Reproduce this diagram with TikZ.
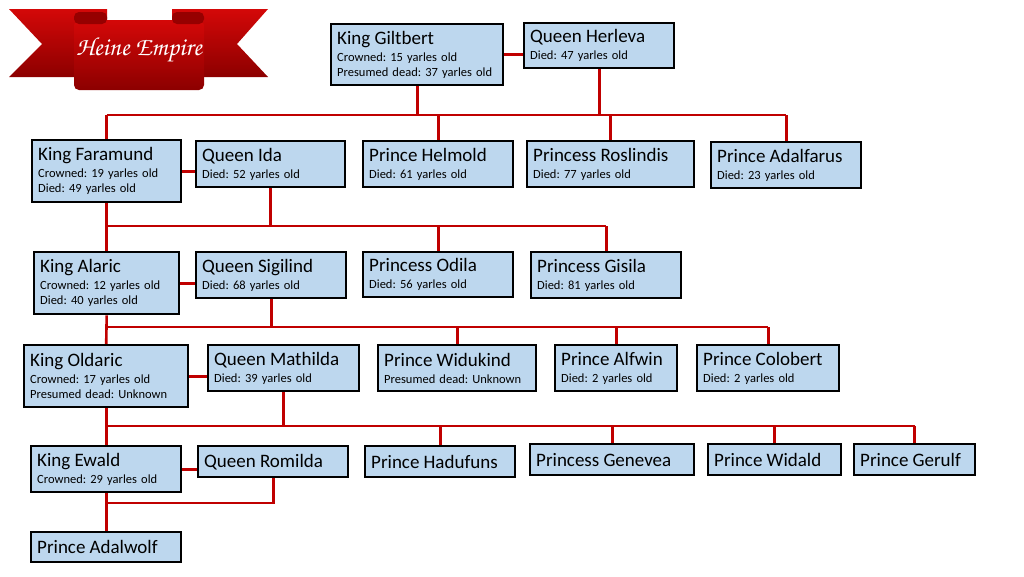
\documentclass[tikz,border=0pt]{standalone}
\usepackage{fontspec}
\setmainfont{Carlito}
\usetikzlibrary{backgrounds}
\definecolor{boxblue}{RGB}{189,215,238}
\definecolor{linkred}{RGB}{192,0,0}
\definecolor{ribbonhi}{RGB}{212,8,8}
\definecolor{ribbonlo}{RGB}{140,0,0}
\definecolor{ribbondk}{RGB}{150,0,0}
\newcommand\namefont{\fontsize{19}{23}\selectfont}
\newcommand\detfont{\fontsize{12.5}{15}\selectfont}
\frenchspacing
\tikzset{
  member/.style={draw=black, line width=2.4pt, fill=boxblue, anchor=north west,
    inner xsep=6pt, inner ysep=3pt, align=left, font=\detfont},
  link/.style={draw=linkred, line width=2.6pt}
}
\begin{document}
\begin{tikzpicture}[x=1pt,y=-1pt]
  \def\member(#1)[#2]#3#4#5{%
    \pgfmathsetmacro\tw{#3-12}
    \node[member, text width=\tw pt, minimum height=#4pt] (#1) at (#2) {#5};
  }
  \useasboundingbox (0,0) rectangle (1024,576);

  % banner
  \shade[top color=ribbonhi, bottom color=ribbonlo]
    (9,9) -- (107,9) -- (107,77) -- (9,77) -- (42,44) -- cycle;
  \shade[top color=ribbonhi, bottom color=ribbonlo]
    (268,9) -- (172,9) -- (172,77) -- (268,77) -- (237,44) -- cycle;
  \shade[top color=ribbonhi, bottom color=ribbonlo, rounded corners=5pt]
    (74,20) -- (74,90) -- (204,90) -- (204,20) -- cycle;
  \fill[ribbondk, rounded corners=5pt] (74,12) rectangle (107,24);
  \fill[ribbondk, rounded corners=5pt] (172,12) rectangle (204,24);
  \node[text=white, font={\fontencoding{OT1}\fontfamily{pzc}\fontseries{mb}\fontshape{it}\fontsize{26}{28}\selectfont}]
    (title) at (139,50) {Heine Empire};

  % generation 1
  \member(gilt)[330,23]{172}{61}{{\namefont King Giltbert}\\[2pt]Crowned: 15 yarles old\\Presumed dead: 37 yarles old}
  \member(herl)[523,22]{150}{45}{{\namefont Queen Herleva}\\[2pt]Died: 47 yarles old}

  % generation 2
  \member(fara)[31,139]{149}{62}{{\namefont King Faramund}\\[2pt]Crowned: 19 yarles old\\Died: 49 yarles old}
  \member(ida)[195,140]{149}{46}{{\namefont Queen Ida}\\[2pt]Died: 52 yarles old}
  \member(helm)[362,140]{150}{46}{{\namefont Prince Helmold}\\[2pt]Died: 61 yarles old}
  \member(rosl)[526,140]{167}{46}{{\namefont Princess Roslindis}\\[2pt]Died: 77 yarles old}
  \member(adalf)[710,141]{150}{46}{{\namefont Prince Adalfarus}\\[2pt]Died: 23 yarles old}

  % generation 3
  \member(alar)[33,251]{145}{62}{{\namefont King Alaric}\\[2pt]Crowned: 12 yarles old\\Died: 40 yarles old}
  \member(sigi)[195,251]{150}{46}{{\namefont Queen Sigilind}\\[2pt]Died: 68 yarles old}
  \member(odila)[362,251]{150}{45}{{\namefont Princess Odila}\\[2pt]Died: 56 yarles old}
  \member(gisila)[530,251]{150}{46}{{\namefont Princess Gisila}\\[2pt]Died: 81 yarles old}

  % generation 4
  \member(olda)[23,344]{164}{62}{{\namefont King Oldaric}\\[2pt]Crowned: 17 yarles old\\Presumed dead: Unknown}
  \member(math)[207,344]{151}{46}{{\namefont Queen Mathilda}\\[2pt]Died: 39 yarles old}
  \member(widu)[377,344]{158}{46}{{\namefont Prince Widukind}\\[2pt]Presumed dead: Unknown}
  \member(alfw)[554,344]{122}{46}{{\namefont Prince Alfwin}\\[2pt]Died: 2 yarles old}
  \member(colo)[696,344]{142}{46}{{\namefont Prince Colobert}\\[2pt]Died: 2 yarles old}

  % generation 5
  \member(ewald)[30,445]{150}{46}{{\namefont King Ewald}\\[2pt]Crowned: 29 yarles old}
  \member(romi)[197,445]{150}{31}{\namefont Queen Romilda}
  \member(hadu)[364,445]{150}{31}{\namefont Prince Hadufuns}
  \member(gene)[529,443]{164}{31}{\namefont Princess Genevea}
  \member(wida)[707,443]{133}{31}{\namefont Prince Widald}
  \member(geru)[853,443]{121}{31}{\namefont Prince Gerulf}

  % generation 6
  \member(adalw)[30,531]{150}{30}{\namefont Prince Adalwolf}

  \coordinate (b1) at (0,115);
  \coordinate (b2) at (0,226);
  \coordinate (b3) at (0,327);
  \coordinate (b4) at (0,426);
  \coordinate (b5) at (0,503);

  \begin{scope}[on background layer]
    \draw[link] (gilt.east) -- (gilt.east -| herl.west);
    \draw[link] (gilt.south) -- (gilt.south |- b1);
    \draw[link] (herl.south) -- (herl.south |- b1);
    \draw[link] (fara.north |- b1) -- (adalf.north |- b1);
    \foreach \c in {fara,helm,rosl,adalf}
      \draw[link] (\c.north) -- (\c.north |- b1);

    \draw[link] (fara.east) -- (fara.east -| ida.west);
    \draw[link] (fara.south) -- (alar.north);
    \draw[link] (ida.south) -- (ida.south |- b2);
    \draw[link] (fara.south |- b2) -- (gisila.north |- b2);
    \foreach \c in {odila,gisila}
      \draw[link] (\c.north) -- (\c.north |- b2);

    \draw[link] (alar.east) -- (alar.east -| sigi.west);
    \draw[link] (alar.south) -- (olda.north);
    \draw[link] (sigi.south) -- (sigi.south |- b3);
    \draw[link] (alar.south |- b3) -- (colo.north |- b3);
    \foreach \c in {widu,alfw,colo}
      \draw[link] (\c.north) -- (\c.north |- b3);

    \draw[link] (olda.east) -- (olda.east -| math.west);
    \draw[link] (olda.south) -- (ewald.north);
    \draw[link] (math.south) -- (math.south |- b4);
    \draw[link] (olda.south |- b4) -- (geru.north |- b4);
    \foreach \c in {hadu,gene,wida,geru}
      \draw[link] (\c.north) -- (\c.north |- b4);

    \draw[link] (ewald.east) -- (ewald.east -| romi.west);
    \draw[link] (ewald.south) -- (adalw.north);
    \draw[link] (romi.south) -- (romi.south |- b5) -- (ewald.south |- b5);
  \end{scope}
\end{tikzpicture}
\end{document}
